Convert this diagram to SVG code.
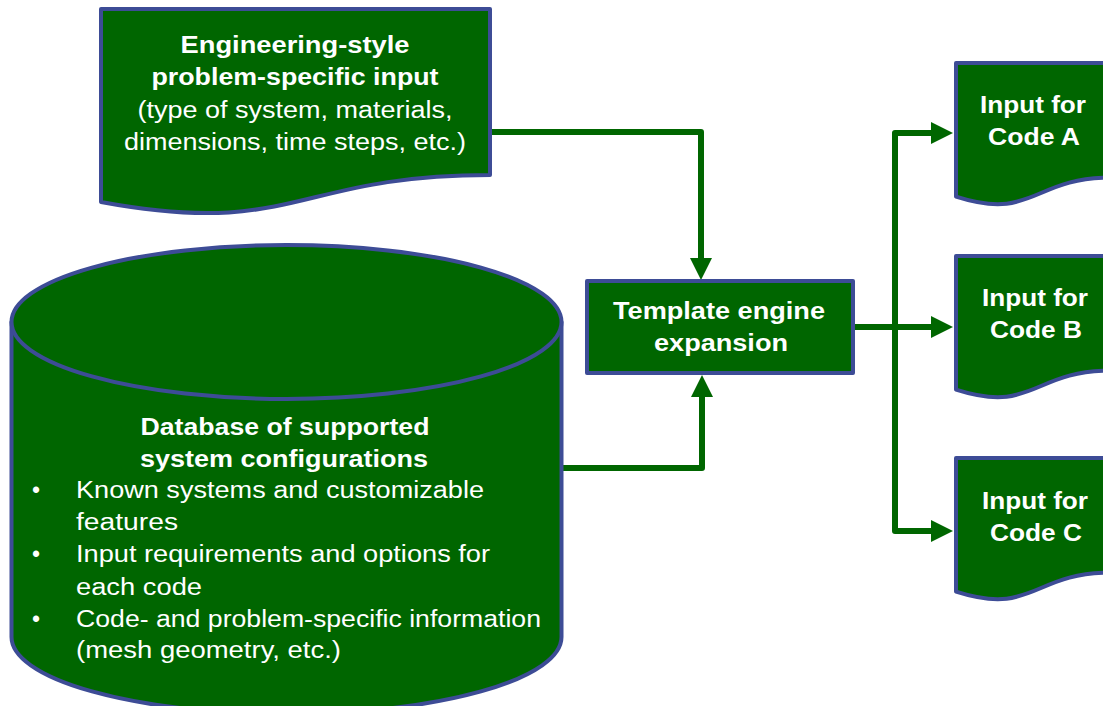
<svg xmlns="http://www.w3.org/2000/svg" width="1103" height="706" viewBox="0 0 1103 706">
<style>
.shape{fill:#006600;stroke:#3D4C96;stroke-width:4;stroke-linejoin:round}
.t{font-family:"Liberation Sans",Arial,sans-serif;font-size:23px;fill:#ffffff}
.b{font-weight:bold}
.m{text-anchor:middle}
.conn{fill:none;stroke:#006600;stroke-width:6;stroke-linejoin:round}
</style>
<defs>
<marker id="arr" markerUnits="userSpaceOnUse" markerWidth="24" markerHeight="24" viewBox="0 -12 24 24" refX="1" refY="0" orient="auto-start-reverse">
<path d="M0,-11 L22,0 L0,11 Z" fill="#006600"/>
</marker>
</defs>
<rect width="1103" height="706" fill="#ffffff"/>
<g id="connectors">
<path class="conn" d="M490,132 H701 V259" marker-end="url(#arr)"/>
<path class="conn" d="M561,468 H702 V396" marker-end="url(#arr)"/>
<path class="conn" d="M853,327 H932" marker-end="url(#arr)"/>
<path class="conn" d="M932,133 H895 V531 H932" marker-start="url(#arr)" marker-end="url(#arr)"/>
</g>
<g id="input-doc">
<path class="shape" d="M101,9 H490 V175 C295.5,175 295.5,238 101,202 Z"/>
<text class="t b m" x="295" y="53" textLength="229" lengthAdjust="spacingAndGlyphs">Engineering-style</text>
<text class="t b m" x="295" y="85" textLength="287" lengthAdjust="spacingAndGlyphs">problem-specific input</text>
<text class="t m" x="295" y="118" textLength="315" lengthAdjust="spacingAndGlyphs">(type of system, materials,</text>
<text class="t m" x="295" y="150" textLength="342" lengthAdjust="spacingAndGlyphs">dimensions, time steps, etc.)</text>
</g>
<g id="database">
<path class="shape" d="M11.5,322 V637 A275,77 0 0 0 561.5,637 V322 Z"/>
<ellipse class="shape" cx="286.5" cy="322" rx="275" ry="77"/>
<text class="t b m" x="285" y="435" textLength="289" lengthAdjust="spacingAndGlyphs">Database of supported</text>
<text class="t b m" x="284" y="467" textLength="288" lengthAdjust="spacingAndGlyphs">system configurations</text>
<text class="t m" x="36" y="498" font-size="18">•</text>
<text class="t" x="76" y="498" textLength="408" lengthAdjust="spacingAndGlyphs">Known systems and customizable</text>
<text class="t" x="76" y="530" textLength="102" lengthAdjust="spacingAndGlyphs">features</text>
<text class="t m" x="36" y="562" font-size="18">•</text>
<text class="t" x="76" y="562" textLength="414" lengthAdjust="spacingAndGlyphs">Input requirements and options for</text>
<text class="t" x="76" y="595" textLength="126" lengthAdjust="spacingAndGlyphs">each code</text>
<text class="t m" x="36" y="627" font-size="18">•</text>
<text class="t" x="76" y="627" textLength="465" lengthAdjust="spacingAndGlyphs">Code- and problem-specific information</text>
<text class="t" x="76" y="658" textLength="265" lengthAdjust="spacingAndGlyphs">(mesh geometry, etc.)</text>
</g>
<g id="template-engine">
<rect class="shape" x="587" y="281" width="266" height="92"/>
<text class="t b m" x="719" y="319" textLength="212" lengthAdjust="spacingAndGlyphs">Template engine</text>
<text class="t b m" x="721" y="351" textLength="134" lengthAdjust="spacingAndGlyphs">expansion</text>
</g>
<g id="code-a">
<path class="shape" d="M956,63 H1110 V177.7 C1033,177.7 1033,221.3 956,196.6 Z"/>
<text class="t b m" x="1033" y="113" textLength="106" lengthAdjust="spacingAndGlyphs">Input for</text>
<text class="t b m" x="1034" y="145" textLength="92" lengthAdjust="spacingAndGlyphs">Code A</text>
</g>
<g id="code-b">
<path class="shape" d="M956,256 H1110 V370.7 C1033,370.7 1033,414.3 956,389.6 Z"/>
<text class="t b m" x="1035" y="306" textLength="106" lengthAdjust="spacingAndGlyphs">Input for</text>
<text class="t b m" x="1036" y="338" textLength="92" lengthAdjust="spacingAndGlyphs">Code B</text>
</g>
<g id="code-c">
<path class="shape" d="M956,458 H1110 V572.7 C1033,572.7 1033,616.3 956,591.6 Z"/>
<text class="t b m" x="1035" y="509" textLength="106" lengthAdjust="spacingAndGlyphs">Input for</text>
<text class="t b m" x="1036" y="541" textLength="92" lengthAdjust="spacingAndGlyphs">Code C</text>
</g>
</svg>
